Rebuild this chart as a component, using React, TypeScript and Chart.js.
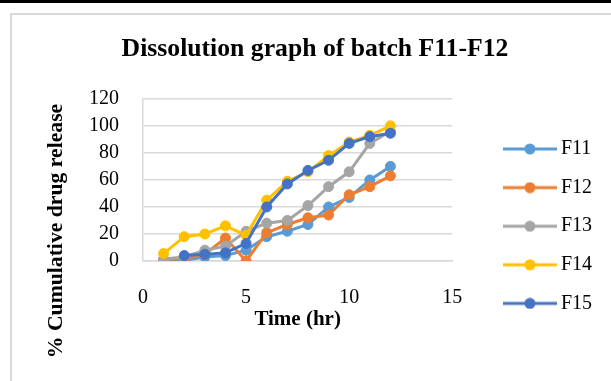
import React, { useEffect, useRef } from 'react';
import { Chart, registerables } from 'chart.js';

Chart.register(...registerables);

const chartTitle = 'Dissolution graph of batch F11-F12';
const xAxisTitle = 'Time (hr)';
const yAxisTitle = '% Cumulative drug release';

const times = [1, 2, 3, 4, 5, 6, 7, 8, 9, 10, 11, 12];
const seriesNames = ['F11', 'F12', 'F13', 'F14', 'F15'];
const f11 = [0.5, 0.5, 3, 4, 8, 18, 22, 27, 40, 47, 60, 70];
const f12 = [1, 2, 5, 17, 0, 21, 27, 32, 34, 49, 55, 63];
const f13 = [1.5, 3, 8, 11, 22, 28, 30, 41, 55, 66, 87, 96];
const f14 = [5.5, 18, 20, 26, 19, 45, 59, 66, 78, 88, 93, 100];
const f15 = [null, 4, 5, 6, 13, 40, 57, 67, 74.5, 87, 92, 94.5];
const seriesValues = [f11, f12, f13, f14, f15];
const seriesColors = ['#5B9BD5', '#ED7D31', '#A5A5A5', '#FFC000', '#4472C4'];

const xMin = 0;
const xMax = 15;
const xStep = 5;
const yMin = 0;
const yMax = 120;
const yStep = 20;

const FONT = "'Liberation Serif', 'Times New Roman', serif";

function makeLegendIcon(color: string): HTMLCanvasElement {
  const c = document.createElement('canvas');
  c.width = 54;
  c.height = 12;
  const ctx = c.getContext('2d')!;
  ctx.strokeStyle = color;
  ctx.lineWidth = 3;
  ctx.beginPath();
  ctx.moveTo(0, 6);
  ctx.lineTo(54, 6);
  ctx.stroke();
  ctx.fillStyle = color;
  ctx.beginPath();
  ctx.arc(27, 6, 5.5, 0, Math.PI * 2);
  ctx.fill();
  return c;
}

const yTitlePlugin = {
  id: 'yTitlePlugin',
  afterDraw(chart: any) {
    const { ctx, chartArea } = chart;
    ctx.save();
    ctx.translate(chartArea.left - 87, chartArea.bottom - 30);
    ctx.rotate(-Math.PI / 2);
    ctx.font = `bold 21.7px ${FONT}`;
    ctx.fillStyle = '#000000';
    ctx.textAlign = 'center';
    ctx.textBaseline = 'middle';
    ctx.fillText(yAxisTitle, 0, 0);
    ctx.restore();
  },
};

export default function App() {
  const canvasRef = useRef<HTMLCanvasElement | null>(null);

  useEffect(() => {
    if (!canvasRef.current) return;
    const icons = seriesColors.map((c) => makeLegendIcon(c));
    const datasets = seriesNames.map((name, i) => ({
      label: name,
      data: times
        .map((t, j) => ({ x: t, y: seriesValues[i][j] }))
        .filter((p) => p.y !== null),
      borderColor: seriesColors[i],
      backgroundColor: seriesColors[i],
      pointBackgroundColor: seriesColors[i],
      pointBorderColor: seriesColors[i],
      pointRadius: 5,
      pointBorderWidth: 1,
      borderWidth: 3,
      showLine: true,
      order: seriesNames.length - i,
    }));

    const chart = new Chart(canvasRef.current, {
      type: 'scatter',
      data: { datasets },
      plugins: [yTitlePlugin],
      options: {
        animation: false,
        responsive: false,
        layout: { padding: { left: 16, right: 9, top: 0, bottom: 27 } },
        plugins: {
          tooltip: { enabled: false },
          title: {
            display: true,
            text: chartTitle,
            color: '#000000',
            font: { family: FONT, size: 25.7, weight: 'bold' },
            padding: { top: 19, bottom: 34 },
          },
          legend: {
            display: true,
            position: 'right',
            align: 'start',
            maxWidth: 200,
            title: {
              display: true,
              text: ' ',
              font: { family: FONT, size: 10 },
              padding: { top: 46.7, bottom: 46.7 },
            },
            labels: {
              usePointStyle: true,
              pointStyleWidth: 42,
              boxHeight: 12,
              padding: 18.6,
              color: '#000000',
              font: { family: FONT, size: 20 },
              sort: (a: any, b: any) => a.datasetIndex - b.datasetIndex,
              generateLabels: (ch: any) => {
                const items = Chart.defaults.plugins.legend.labels.generateLabels(ch);
                return items.map((it: any, i: number) => ({
                  ...it,
                  pointStyle: icons[it.datasetIndex ?? i],
                }));
              },
            },
          },
        },
        scales: {
          x: {
            type: 'linear',
            min: xMin,
            max: xMax,
            afterFit: (s: any) => {
              s.height = 93;
            },
            ticks: {
              stepSize: xStep,
              padding: 25,
              color: '#000000',
              font: { family: FONT, size: 20 },
            },
            grid: { display: false, drawTicks: false },
            border: { display: true, color: '#D9D9D9', width: 1.5 },
            title: {
              display: true,
              text: xAxisTitle,
              color: '#000000',
              font: { family: FONT, size: 21, weight: 'bold' },
              padding: { top: 4, bottom: 22 },
            },
          },
          y: {
            type: 'linear',
            min: yMin,
            max: yMax,
            afterFit: (s: any) => {
              s.width = 115;
            },
            ticks: {
              stepSize: yStep,
              padding: 24,
              color: '#000000',
              font: { family: FONT, size: 20 },
            },
            grid: { display: true, color: '#D9D9D9', lineWidth: 1.5, drawTicks: false },
            border: { display: true, color: '#D9D9D9', width: 1.5 },
          },
          yRight: {
            type: 'linear',
            position: 'right',
            display: true,
            afterFit: (s: any) => {
              s.width = 38;
            },
            ticks: { display: false },
            grid: { display: false, drawTicks: false },
            border: { display: false },
          },
        },
      },
    } as any);

    return () => {
      chart.destroy();
    };
  }, []);

  return (
    <div
      style={{
        position: 'fixed',
        left: 0,
        top: 0,
        width: 611,
        height: 381,
        background: '#ffffff',
        overflow: 'hidden',
      }}
    >
      <div style={{ position: 'absolute', left: 0, top: 0, width: 611, height: 3, background: '#000000' }} />
      <div
        style={{
          position: 'absolute',
          left: 10,
          top: 13,
          width: 700,
          height: 500,
          borderTop: '2px solid #D9D9D9',
          borderLeft: '2px solid #D9D9D9',
        }}
      />
      <canvas
        ref={canvasRef}
        width={599}
        height={366}
        style={{ position: 'absolute', left: 12, top: 15, width: 599, height: 366 }}
      />
    </div>
  );
}
